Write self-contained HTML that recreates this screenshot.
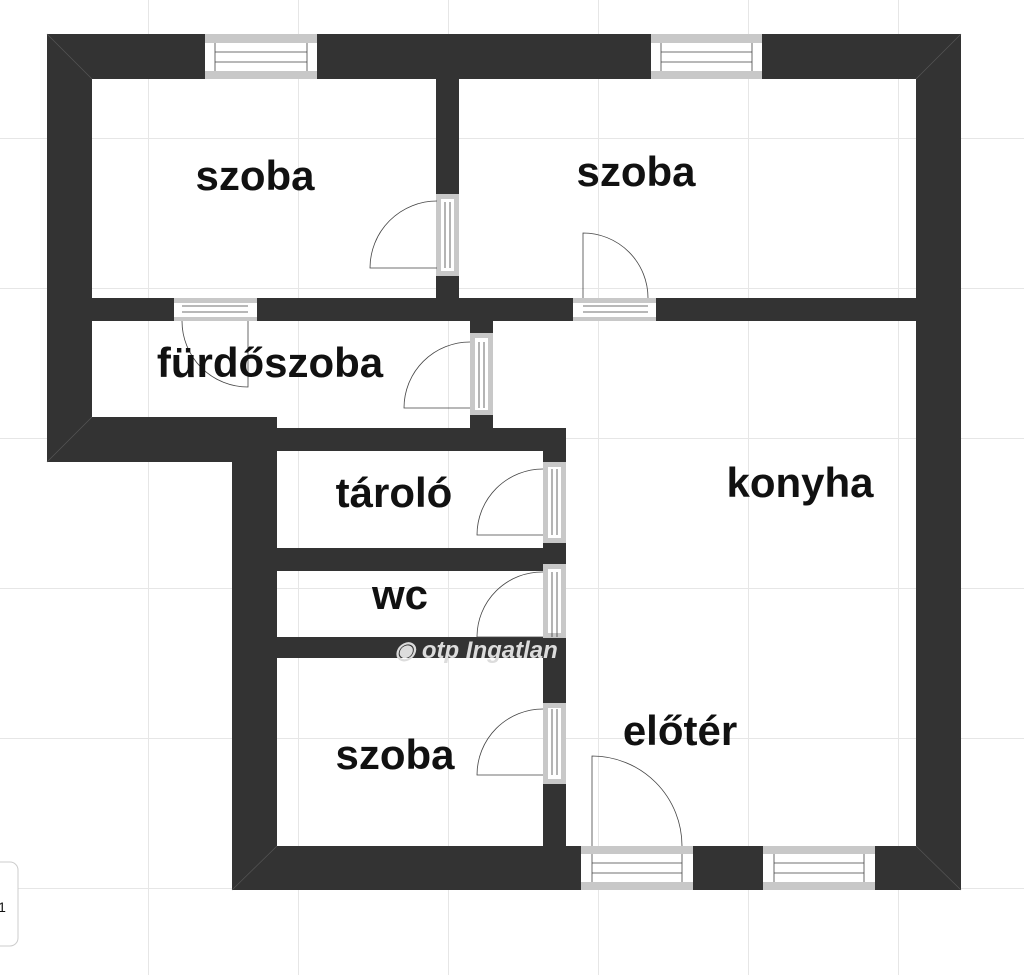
<!DOCTYPE html>
<html><head><meta charset="utf-8"><style>
html,body{margin:0;padding:0;background:#fff;}
svg{display:block}
text{font-family:"Liberation Sans",sans-serif;font-weight:bold;font-size:42px;fill:#111;text-anchor:middle}
</style></head><body>
<svg width="1024" height="975" viewBox="0 0 1024 975" xmlns="http://www.w3.org/2000/svg">
<rect width="1024" height="975" fill="#fff"/>
<g stroke="#e6e6e6" stroke-width="1">
<line x1="148.5" y1="0" x2="148.5" y2="975"/><line x1="298.5" y1="0" x2="298.5" y2="975"/><line x1="448.5" y1="0" x2="448.5" y2="975"/><line x1="598.5" y1="0" x2="598.5" y2="975"/><line x1="748.5" y1="0" x2="748.5" y2="975"/><line x1="898.5" y1="0" x2="898.5" y2="975"/>
<line x1="0" y1="138.5" x2="1024" y2="138.5"/><line x1="0" y1="288.5" x2="1024" y2="288.5"/><line x1="0" y1="438.5" x2="1024" y2="438.5"/><line x1="0" y1="588.5" x2="1024" y2="588.5"/><line x1="0" y1="738.5" x2="1024" y2="738.5"/><line x1="0" y1="888.5" x2="1024" y2="888.5"/>
</g>
<rect x="-10" y="862" width="28" height="84" rx="8" fill="#fff" stroke="#ccc"/>
<text x="2" y="912" style="font-size:14px;font-weight:normal">1</text>
<g fill="#333">
<rect x="47" y="34" width="914" height="45"/>
<rect x="47" y="34" width="45" height="428"/>
<rect x="47" y="417" width="230" height="45"/>
<rect x="232" y="417" width="45" height="473"/>
<rect x="916" y="34" width="45" height="856"/>
<rect x="232" y="846" width="729" height="44"/>
<rect x="436" y="79" width="23" height="219"/>
<rect x="92" y="298" width="824" height="23"/>
<rect x="470" y="321" width="23" height="107"/>
<rect x="277" y="428" width="289" height="23"/>
<rect x="543" y="428" width="23" height="418"/>
<rect x="277" y="548" width="289" height="23"/>
<rect x="277" y="637" width="266" height="21"/>
</g>
<g stroke="#555" stroke-width="0.7">
<line x1="47" y1="34" x2="92" y2="79"/><line x1="961" y1="34" x2="916" y2="79"/><line x1="961" y1="890" x2="916" y2="846"/><line x1="232" y1="890" x2="277" y2="846"/><line x1="47" y1="462" x2="92" y2="417"/>
</g>
<g>
<rect x="205" y="34" width="112" height="45" fill="#c8c8c8"/><rect x="205" y="43" width="112" height="28" fill="#fff"/>
<rect x="651" y="34" width="111" height="45" fill="#c8c8c8"/><rect x="651" y="43" width="111" height="28" fill="#fff"/>
<rect x="581" y="846" width="112" height="44" fill="#c8c8c8"/><rect x="581" y="854" width="112" height="28" fill="#fff"/>
<rect x="763" y="846" width="112" height="44" fill="#c8c8c8"/><rect x="763" y="854" width="112" height="28" fill="#fff"/>
<rect x="174" y="298" width="83" height="23" fill="#c8c8c8"/><rect x="174" y="303" width="83" height="14" fill="#fff"/>
<rect x="573" y="298" width="83" height="23" fill="#c8c8c8"/><rect x="573" y="303" width="83" height="14" fill="#fff"/>
<rect x="436" y="194" width="23" height="82" fill="#c8c8c8"/><rect x="441" y="199" width="13" height="72" fill="#fff"/>
<rect x="470" y="333" width="23" height="82" fill="#c8c8c8"/><rect x="475" y="338" width="13" height="72" fill="#fff"/>
<rect x="543" y="462" width="23" height="81" fill="#c8c8c8"/><rect x="548" y="467" width="13" height="71" fill="#fff"/>
<rect x="543" y="564" width="23" height="74" fill="#c8c8c8"/><rect x="548" y="569" width="13" height="64" fill="#fff"/>
<rect x="543" y="703" width="23" height="81" fill="#c8c8c8"/><rect x="548" y="708" width="13" height="71" fill="#fff"/>
</g>
<g stroke="#444" stroke-width="0.8" fill="none">
<path d="M215 43V71M307 43V71M215 52H307M215 62H307"/>
<path d="M661 43V71M752 43V71M661 52H752M661 62H752"/>
<path d="M592 854V882M682 854V882M592 863H682M592 873H682"/>
<path d="M774 854V882M864 854V882M774 863H864M774 873H864"/>
<path d="M182 306H248M182 312H248"/>
<path d="M583 306H648M583 312H648"/>
<path d="M445 202V268M450 202V268"/>
<path d="M479 342V408M484 342V408"/>
<path d="M552 469V535M557 469V535"/>
<path d="M552 572V637M557 572V637"/>
<path d="M552 709V775M557 709V775"/>
<path d="M437 268H370A67 67 0 0 1 437 201"/>
<path d="M470 408H404A66 66 0 0 1 470 342"/>
<path d="M248 321V387A66 66 0 0 1 182 321"/>
<path d="M583 298V233A65 65 0 0 1 648 298"/>
<path d="M543 535H477A66 66 0 0 1 543 469"/>
<path d="M543 637H477A65 65 0 0 1 543 572"/>
<path d="M543 775H477A66 66 0 0 1 543 709"/>
<path d="M592 846V756A90 90 0 0 1 682 846"/>
</g>
<text x="255" y="190">szoba</text>
<text x="636" y="186">szoba</text>
<text x="270" y="377">fürdőszoba</text>
<text x="394" y="507">tároló</text>
<text x="400" y="609">wc</text>
<text x="395" y="769">szoba</text>
<text x="800" y="497">konyha</text>
<text x="680" y="745">előtér</text>
<text x="476" y="658" style="font-size:24px;font-style:italic;fill:#dcdcdc;text-anchor:middle">◉ otp Ingatlan</text>
</svg>
</body></html>
